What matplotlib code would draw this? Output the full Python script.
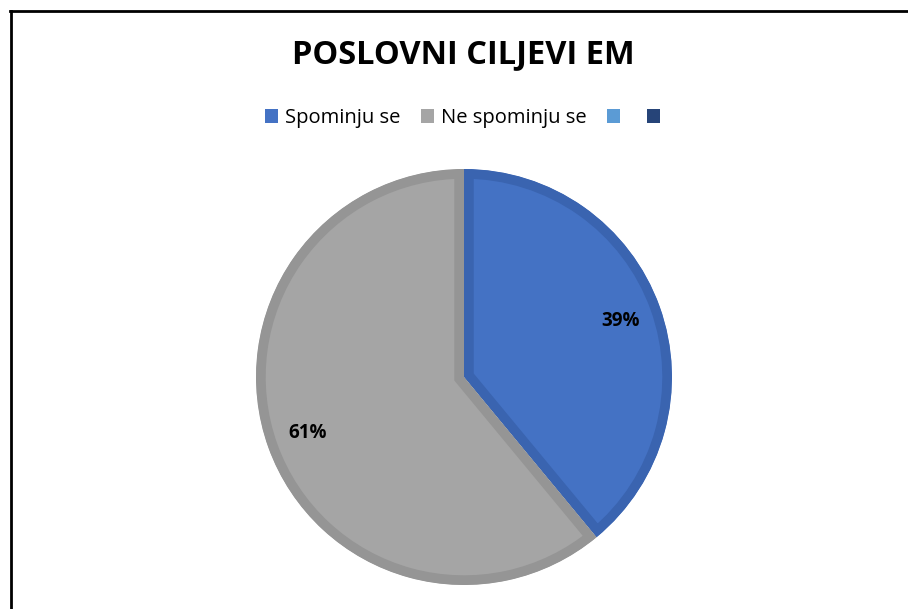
import matplotlib
matplotlib.use("Agg")
import matplotlib.pyplot as plt
from matplotlib.lines import Line2D
from matplotlib.patches import Patch

plt.rcParams['font.family'] = ['Open Sans', 'DejaVu Sans']

title = "POSLOVNI CILJEVI EM"
labels = ["Spominju se", "Ne spominju se", "", ""]
shares = [39, 61]
face_colors = ["#4472C4", "#A5A5A5", "#5B9BD5", "#264478"]
edge_colors = ["#3A64B0", "#959595"]

fig = plt.figure(figsize=(9.08, 6.09), dpi=100)

# pie axes: center at (464, 377) px, radius ~208 px
ax = fig.add_axes([(464 - 208) / 908, (609 - 377 - 208) / 609, 416 / 908, 416 / 609])
wedges, texts, autotexts = ax.pie(shares, colors=face_colors[:2], startangle=90,
                                  counterclock=False, autopct='%1.0f%%',
                                  pctdistance=0.8, radius=1,
                                  textprops=dict(fontsize=13.5, fontweight='bold', color='black'))
# darker inner border: thick edge clipped to the wedge itself
for w, ec in zip(wedges, edge_colors):
    w.set_edgecolor(ec)
    w.set_linewidth(14)
    w.set_joinstyle('miter')
    w.set_clip_path(w)
    w.set_clip_on(True)
ax.set_xlim(-1, 1)
ax.set_ylim(-1, 1)
ax.axis('off')

fig.text(463 / 908, 1 - 55 / 609, title, ha='center', va='center',
         fontsize=23.5, fontweight='bold')

handles = [Patch(facecolor=c, edgecolor='none') for c in face_colors]
fig.legend(handles, labels, loc='center', bbox_to_anchor=(466 / 908, 1 - 118 / 609),
           ncol=4, frameon=False, fontsize=14.5, handlelength=0.65, handleheight=0.65,
           handletextpad=0.35, columnspacing=1.0)

# chart frame (left and top edges)
fig.add_artist(Line2D([11 / 908, 11 / 908], [0, 1 - 10.5 / 609], color='black', lw=2,
                      transform=fig.transFigure))
fig.add_artist(Line2D([10 / 908, 1], [1 - 10.5 / 609, 1 - 10.5 / 609], color='black', lw=2,
                      transform=fig.transFigure))

fig.savefig("out.png", dpi=100)
